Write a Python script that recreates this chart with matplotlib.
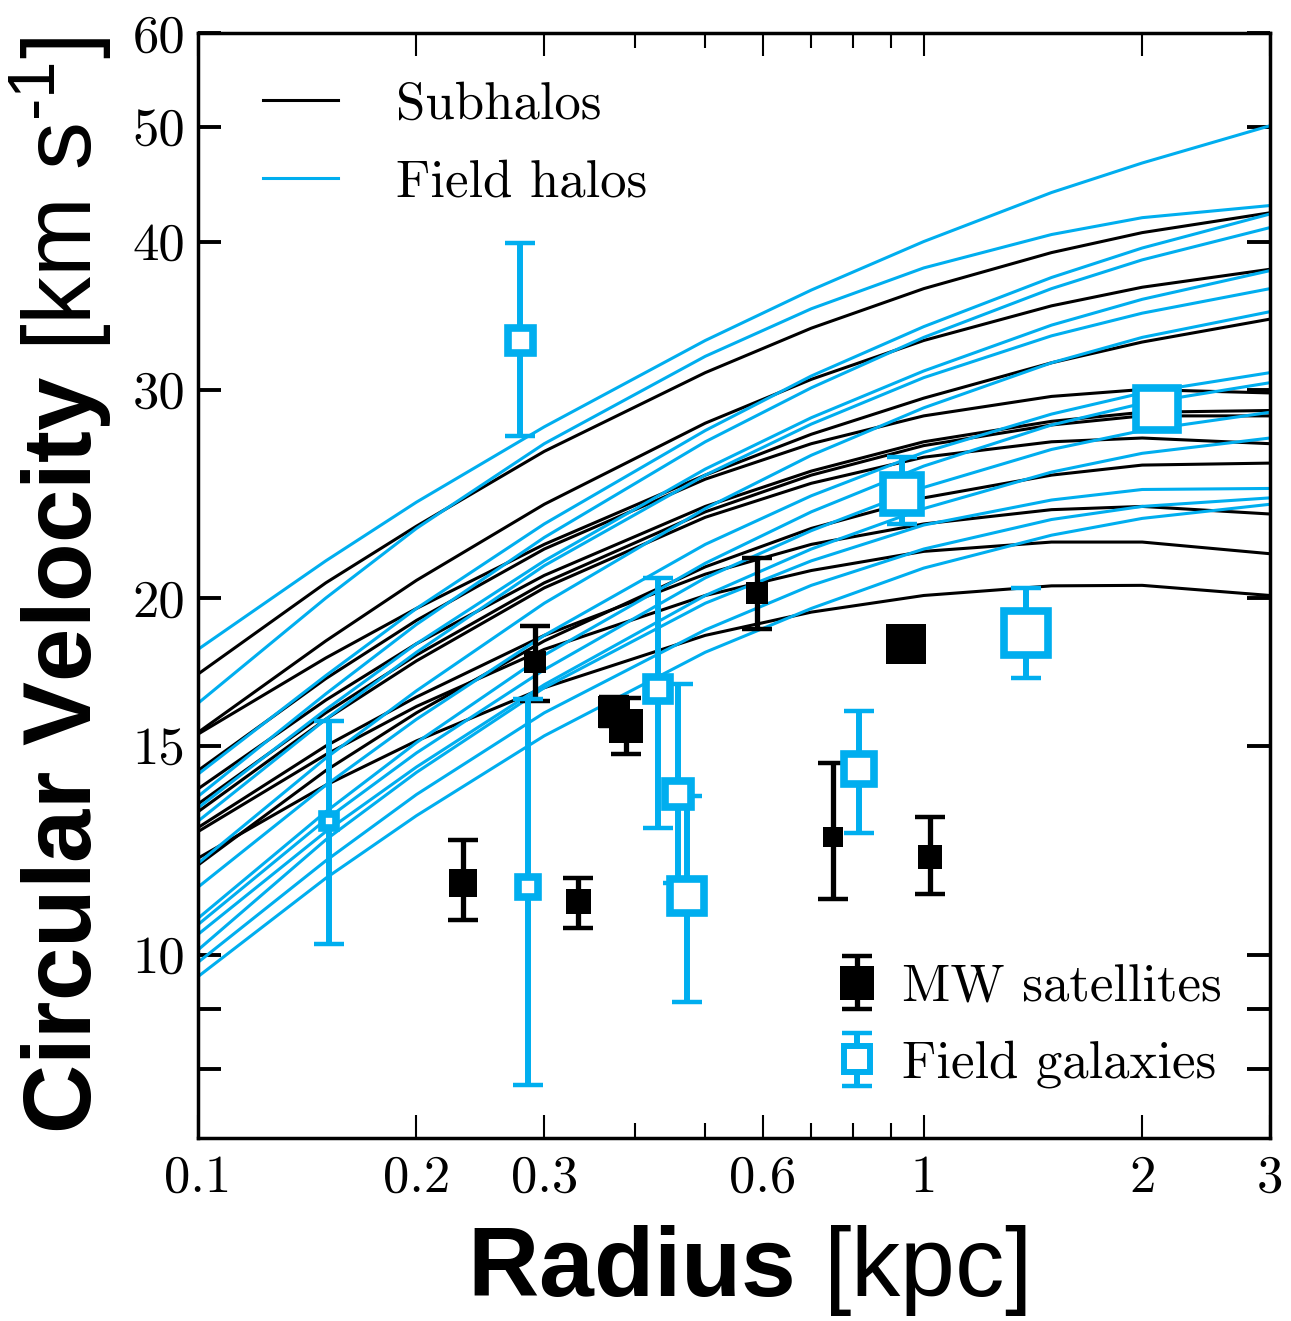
import matplotlib as mpl
mpl.use("Agg")
import matplotlib.pyplot as plt
import matplotlib.ticker as mticker
from matplotlib.legend_handler import HandlerTuple
import numpy as np

CYAN = "#00aeef"

# ---------------------------------------------------------------
# DATA
# ---------------------------------------------------------------
r_grid = [0.1, 0.15, 0.2, 0.3, 0.5, 0.7, 1.0, 1.5, 2.0, 3.0]   # kpc

# rotation curves of subhalos (black)
sub_b1 = [17.25, 20.6, 23.0, 26.6, 31.0, 33.8, 36.5, 39.15, 40.7, 42.3]
sub_b2 = [15.4, 18.4, 20.7, 24.0, 28.1, 30.6, 33.0, 35.3, 36.6, 37.9]
sub_b3 = [15.35, 17.8, 19.6, 22.2, 25.4, 27.5, 29.5, 31.6, 32.9, 34.4]
sub_b4 = [14.3, 17.1, 19.15, 22.0, 25.2, 27.0, 28.5, 29.6, 30.0, 29.8]
sub_b5 = [13.8, 16.4, 18.3, 20.9, 23.9, 25.6, 27.1, 28.2, 28.7, 28.8]
sub_b6 = [13.4, 16.0, 17.9, 20.6, 23.65, 25.4, 26.9, 28.0, 28.5, 28.5]
sub_b7 = [13.2, 15.8, 17.7, 20.4, 23.4, 25.0, 26.3, 27.1, 27.3, 27.0]
sub_b8 = [12.8, 15.0, 16.5, 18.6, 20.95, 22.2, 23.1, 23.75, 23.9, 23.55]
sub_b9 = [12.7, 14.75, 16.2, 18.1, 20.1, 21.1, 21.9, 22.3, 22.3, 21.8]
sub_b10 = [12.06, 13.9, 15.15, 16.8, 18.6, 19.46, 20.1, 20.48, 20.5, 20.1]
sub_b11 = [11.9, 14.3, 16.0, 18.4, 21.25, 22.9, 24.3, 25.4, 25.9, 26.0]
subhalos = [sub_b1, sub_b2, sub_b3, sub_b4, sub_b5, sub_b6, sub_b7,
            sub_b8, sub_b9, sub_b10, sub_b11]

# rotation curves of field halos (cyan)
fld_c1 = [18.1, 21.5, 24.1, 27.9, 33.0, 36.4, 40.0, 44.0, 46.6, 50.1]
fld_c2 = [16.3, 20.0, 22.9, 27.0, 32.0, 35.1, 38.0, 40.55, 41.9, 42.9]
fld_c3 = [14.2, 17.2, 19.6, 23.1, 27.7, 30.8, 33.9, 37.3, 39.5, 42.2]
fld_c4 = [13.6, 16.6, 19.0, 22.5, 27.1, 30.1, 33.2, 36.5, 38.6, 41.1]
fld_c5 = [13.3, 16.1, 18.3, 21.5, 25.7, 28.4, 31.1, 34.0, 35.75, 37.8]
fld_c6 = [12.96, 15.8, 18.0, 21.3, 25.4, 28.05, 30.7, 33.3, 34.8, 36.5]
fld_c7 = [11.94, 14.65, 16.7, 19.8, 23.8, 26.4, 28.95, 31.6, 33.2, 34.9]
fld_c8 = [11.4, 13.9, 15.8, 18.6, 22.2, 24.4, 26.55, 28.6, 29.8, 31.0]
fld_c9 = [10.73, 13.2, 15.1, 17.9, 21.4, 23.65, 25.85, 28.0, 29.2, 30.4]
fld_c10 = [10.6, 13.0, 14.8, 17.4, 20.8, 22.8, 24.8, 26.7, 27.7, 28.7]
fld_c11 = [10.4, 12.7, 14.4, 16.9, 20.1, 22.0, 23.8, 25.55, 26.5, 27.3]
fld_c12 = [10.09, 12.5, 14.25, 16.8, 19.8, 21.5, 23.05, 24.2, 24.7, 24.75]
fld_c13 = [9.85, 12.0, 13.65, 16.0, 18.8, 20.5, 22.0, 23.3, 23.9, 24.3]
fld_c14 = [9.58, 11.6, 13.1, 15.3, 18.0, 19.6, 21.2, 22.6, 23.35, 24.0]
fieldhalos = [fld_c1, fld_c2, fld_c3, fld_c4, fld_c5, fld_c6, fld_c7,
              fld_c8, fld_c9, fld_c10, fld_c11, fld_c12, fld_c13, fld_c14]

# MW satellites: radius, velocity, lower / upper end of error bar
mw_r = [0.232, 0.291, 0.334, 0.374, 0.389, 0.589, 0.749, 0.945, 1.019]
mw_v = [11.5, 17.66, 11.09, 16.03, 15.6, 20.2, 12.58, 18.3, 12.1]
mw_lo = [10.7, 16.37, 10.54, 15.6, 14.76, 18.84, 11.15, 17.9, 11.26]
mw_hi = [12.5, 18.95, 11.6, 16.5, 16.47, 21.6, 14.5, 18.7, 13.06]
mw_size = [20, 16.5, 18, 23, 24, 16, 14.5, 29, 17.5]     # marker size [pt]

# Field galaxies
fg_r = [0.1515, 0.2777, 0.2848, 0.430, 0.458, 0.4717, 0.814, 0.933, 1.382, 2.094]
fg_v = [12.96, 33.0, 11.4, 16.76, 13.66, 11.2, 14.34, 24.5, 18.69, 28.9]
fg_lo = [10.2, 27.4, 7.76, 12.8, 11.5, 9.11, 12.66, 23.1, 17.12, 28.3]
fg_hi = [15.74, 39.9, 16.44, 20.8, 16.92, 13.6, 16.05, 26.3, 20.4, 29.5]
fg_size = [10, 18, 14, 17.5, 19, 25, 21.5, 28, 31.5, 30]  # marker size [pt]


def rc_setup():
	"""Generalized plot attributes"""
	mpl.rcParams["mathtext.fontset"] = "custom"
	mpl.rcParams["mathtext.rm"] = "Liberation Sans"
	mpl.rcParams["mathtext.bf"] = "Liberation Sans:bold"
	mpl.rcParams["mathtext.it"] = "Liberation Sans:italic"
	mpl.rcParams["axes.linewidth"] = 2.5


rc_setup()
fig = plt.figure(figsize=(12.91, 13.21), dpi=100)
ax = fig.add_axes([198 / 1291, 1 - 1138 / 1321, 1072 / 1291, 1105 / 1321])

# SIMULATED ROTATION CURVES
for i, vc in enumerate(subhalos):
	ax.plot(r_grid, vc, color="black", lw=2.2,
	        label="Subhalos" if i == 0 else None, zorder=2)
for i, vc in enumerate(fieldhalos):
	ax.plot(r_grid, vc, color=CYAN, lw=2.2,
	        label="Field halos" if i == 0 else None, zorder=2)

# OBSERVED GALAXIES (error bars first, then the squares on top)
mw_style = dict(ecolor="black", elinewidth=3.8, capsize=10.5, capthick=3.2)
fg_style = dict(ecolor=CYAN, elinewidth=4.3, capsize=10.5, capthick=3.2)

for r, v, lo, hi, ms in zip(mw_r, mw_v, mw_lo, mw_hi, mw_size):
	ax.errorbar(r, v, yerr=[[v - lo], [hi - v]], fmt="none", zorder=5,
	            **mw_style)
	ax.plot(r, v, "s", color="black", ms=ms, mew=0, zorder=6)
for r, v, lo, hi, ms in zip(fg_r, fg_v, fg_lo, fg_hi, fg_size):
	ax.errorbar(r, v, yerr=[[v - lo], [hi - v]], fmt="none", zorder=7,
	            **fg_style)
	ax.plot(r, v, "s", mfc="white", mec=CYAN, ms=ms, mew=5.5, zorder=8)

# LEGEND PROXIES FOR DATA
mw_bar = ax.errorbar([np.nan], [np.nan], yerr=[[1], [1]], fmt="none",
                     **mw_style)
mw_sq, = ax.plot([np.nan], [np.nan], "s", color="black", ms=24, mew=0)
fg_bar = ax.errorbar([np.nan], [np.nan], yerr=[[1], [1]], fmt="none",
                     **fg_style)
fg_sq, = ax.plot([np.nan], [np.nan], "s", mfc="white", mec=CYAN, ms=18.5,
                 mew=4.3)

# AXES
ax.set_xscale("log")
ax.set_yscale("log")
ax.set_xlim(0.1, 3)
ax.set_ylim(7, 60)

ax.xaxis.set_major_locator(mticker.FixedLocator([0.1, 0.2, 0.3, 0.6, 1, 2, 3]))
ax.xaxis.set_major_formatter(mticker.FixedFormatter(
	["0.1", "0.2", "0.3", "0.6", "1", "2", "3"]))
ax.xaxis.set_minor_locator(mticker.FixedLocator([0.4, 0.5, 0.7, 0.8, 0.9]))
ax.xaxis.set_minor_formatter(mticker.NullFormatter())

ax.yaxis.set_major_locator(mticker.FixedLocator([8, 9, 10, 15, 20, 30, 40, 50, 60]))
ax.yaxis.set_major_formatter(mticker.FixedFormatter(
	["", "", "10", "15", "20", "30", "40", "50", "60"]))
ax.yaxis.set_minor_locator(mticker.NullLocator())

ax.tick_params(axis="x", which="major", direction="in", length=16.5,
               width=1.5, top=True, pad=12, labelsize=38,
               labelfontfamily="cmr10")
ax.tick_params(axis="x", which="minor", direction="in", length=11,
               width=1.5, top=True)
ax.tick_params(axis="y", which="major", direction="in", length=16.5,
               width=2.8, right=True, pad=9, labelsize=38,
               labelfontfamily="cmr10")

ax.set_ylabel(r"$\mathbf{Circular\ Velocity}$ [km s$^{\text{-1}}$]",
              fontsize=69, family="Liberation Sans")
ax.yaxis.set_label_coords(-0.078, 0.5)
ax.set_xlabel(r"$\mathbf{Radius}$ [kpc]", fontsize=71,
              family="Liberation Sans")
ax.xaxis.set_label_coords(0.512, -0.077)

# LEGENDS
handles, labels = ax.get_legend_handles_labels()
leg1 = ax.legend(handles[:2], ["Subhalos", "Field halos"], loc="upper left",
                 bbox_to_anchor=(0.0604, 0.956), frameon=False,
                 prop={"family": "cmr10", "size": 38}, handlelength=1.42,
                 handletextpad=1.1, labelspacing=0.58, borderpad=0,
                 borderaxespad=0)
ax.add_artist(leg1)
ax.legend([(mw_bar, mw_sq), (fg_bar, fg_sq)], ["MW satellites", "Field galaxies"],
          handler_map={tuple: HandlerTuple(ndivide=1)},
          loc="lower right", bbox_to_anchor=(0.955, 0.045), frameon=False,
          prop={"family": "cmr10", "size": 38}, handlelength=0.9,
          handletextpad=0.4, labelspacing=0.55, borderpad=0,
          borderaxespad=0)

plt.savefig("out.png", dpi=100)
plt.close()
